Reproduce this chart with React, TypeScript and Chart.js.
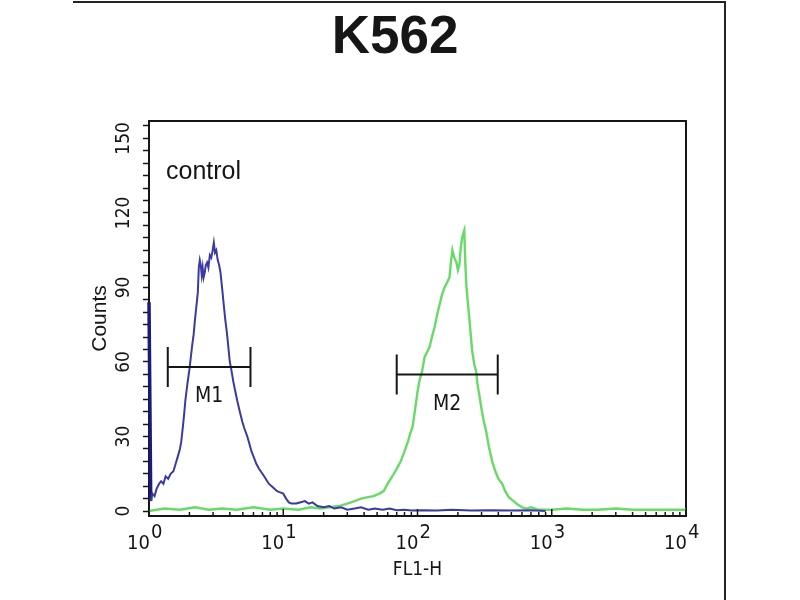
import React, { useEffect, useRef } from "react";
import { Chart, registerables } from "chart.js";
import type { Plugin } from "chart.js";

Chart.register(...registerables);

const chartTitle = "K562";
const sampleNote = "control";
const xTitle = "FL1-H";
const yTitle = "Counts";

const xDecades = [1, 10, 100, 1000, 10000];
const yTickLabels = [0, 30, 60, 90, 120, 150];

// [FL1-H, counts]
const controlHistogram: [number, number][] = [
  [1.0, 84], [1.03, 4], [1.06, 7], [1.1, 6], [1.14, 9], [1.19, 11], [1.23, 12], [1.28, 11],
  [1.33, 14], [1.39, 13], [1.45, 15], [1.52, 16], [1.58, 19], [1.64, 22], [1.7, 25], [1.74, 28],
  [1.78, 33], [1.82, 38], [1.87, 45], [1.93, 51], [2.0, 57], [2.05, 62], [2.1, 67], [2.15, 71],
  [2.2, 77], [2.26, 83], [2.31, 88], [2.35, 98], [2.39, 101], [2.43, 99], [2.47, 95], [2.51, 98],
  [2.55, 94], [2.6, 96], [2.65, 99], [2.71, 100], [2.77, 98], [2.84, 103], [2.91, 102], [2.98, 105],
  [3.04, 108], [3.1, 104], [3.17, 105], [3.25, 101], [3.33, 99], [3.41, 96], [3.5, 90], [3.59, 84],
  [3.7, 77], [3.8, 72], [3.9, 66], [4.0, 60], [4.1, 57], [4.25, 52], [4.4, 48], [4.56, 44],
  [4.75, 40], [4.95, 36], [5.15, 33], [5.4, 30], [5.6, 27], [5.8, 24], [6.0, 22], [6.3, 19],
  [6.6, 17], [7.0, 15], [7.4, 13], [7.8, 11], [8.2, 10], [8.6, 9], [9.0, 8], [9.5, 7.5],
  [10, 7], [10.5, 5], [11, 3.5], [11.5, 3], [12.5, 3], [13.5, 3.5], [14.5, 4], [15.5, 3],
  [16.5, 3.5], [18, 2], [20, 1.5], [22, 2], [24, 1], [27, 1.5], [30, 0.5], [34, 1],
  [38, 1.5], [43, 0.5], [48, 1], [55, 0.5], [62, 1], [70, 0.3], [80, 0.5], [90, 0.2],
  [110, 0.3], [140, 0.2], [180, 0.5], [250, 0.2], [350, 0.3], [500, 0.2], [700, 0.3], [900, 0],
];

const stainedHistogram: [number, number][] = [
  [1.0, 0], [1.3, 1], [1.7, 0.5], [2.2, 1.5], [2.8, 0.5], [3.5, 1], [4.5, 0.5], [6, 1.5],
  [8, 0.5], [10, 1], [13, 0.5], [16, 1.5], [19, 1], [22, 1.5], [26, 2], [30, 3],
  [34, 4], [38, 5], [42, 5.5], [47, 6], [52, 7], [56, 8], [60, 11], [65, 14],
  [70, 17], [75, 20], [80, 24], [85, 28], [88, 31], [92, 34], [96, 41], [100, 48],
  [104, 53], [108, 56], [113, 62], [118, 64], [123, 66], [128, 70], [134, 74], [140, 79],
  [146, 83], [152, 87], [159, 90], [166, 92], [173, 94], [178, 101], [182, 105], [188, 102],
  [195, 100], [200, 97], [205, 99], [210, 106], [215, 110], [220, 112], [223, 113], [227, 100],
  [231, 91], [237, 84], [243, 78], [250, 70], [256, 64], [265, 59], [274, 56], [280, 51],
  [288, 47], [300, 41], [312, 36], [325, 32], [340, 26], [360, 20], [380, 16], [400, 13],
  [427, 11], [450, 8], [480, 5.5], [520, 4], [560, 2.5], [603, 1.5], [650, 1], [700, 1.5],
  [800, 0.5], [1000, 0.5], [1300, 1], [1700, 0.5], [2200, 0.5], [3000, 1], [4000, 0.5], [5500, 0.5],
  [7500, 0.5], [10000, 0.5],
];

const markerNames = ["M1", "M2"];
const markerStart = [1.38, 70];
const markerEnd = [5.7, 396];
const markerLevel = [58, 55];

const ink = "#161616";
const narrow = '"Liberation Sans Narrow", "DejaVu Sans Condensed", "Liberation Sans", sans-serif';
const regular = '"Liberation Sans", Arial, sans-serif';

// ticks 1..9 per decade up to 10^4
const xTickValues: number[] = [];
xDecades.forEach((d, i) => {
  if (i === xDecades.length - 1) {
    xTickValues.push(d);
    return;
  }
  for (let k = 1; k < 10; k++) xTickValues.push(d * k);
});

const flowDecor: Plugin<"line"> = {
  id: "flowDecor",
  beforeDatasetsDraw(chart) {
    const { ctx, chartArea: a } = chart;
    ctx.save();
    ctx.strokeStyle = ink;
    ctx.lineWidth = 2;
    ctx.strokeRect(a.left, a.top, a.right - a.left, a.bottom - a.top);
    ctx.restore();
  },
  afterDatasetsDraw(chart) {
    const { ctx, chartArea: a } = chart;
    const xs = chart.scales.x;
    const ys = chart.scales.y;
    ctx.save();
    ctx.fillStyle = ink;
    ctx.strokeStyle = ink;

    // title + note
    ctx.font = `bold 53px ${regular}`;
    ctx.textAlign = "center";
    ctx.textBaseline = "alphabetic";
    ctx.fillText(chartTitle, 395, 53);
    ctx.font = `25px ${regular}`;
    ctx.textAlign = "left";
    ctx.fillText(sampleNote, 166, 179);

    // inner x ticks
    ctx.lineWidth = 1.5;
    xs.ticks.forEach((t) => {
      const px = xs.getPixelForValue(t.value);
      const len = xDecades.includes(t.value) ? 7 : 4;
      ctx.beginPath();
      ctx.moveTo(px, a.bottom);
      ctx.lineTo(px, a.bottom - len);
      ctx.stroke();
    });

    // 10^n labels
    ctx.font = `20px ${narrow}`;
    xDecades.forEach((d) => {
      const px = xs.getPixelForValue(d);
      ctx.textAlign = "right";
      ctx.fillText("10", px + 1, 549);
      ctx.textAlign = "left";
      ctx.fillText(String(Math.round(Math.log10(d))), px + 2, 538);
    });

    // rotated y labels
    ctx.font = `19px ${narrow}`;
    yTickLabels.forEach((v) => {
      const py = ys.getPixelForValue(v);
      ctx.save();
      ctx.translate(124, py);
      ctx.rotate(-Math.PI / 2);
      ctx.textAlign = "center";
      ctx.textBaseline = "middle";
      ctx.fillText(String(v), 0, 0);
      ctx.restore();
    });

    // gates
    ctx.lineWidth = 2;
    ctx.font = `21px ${narrow}`;
    ctx.textAlign = "center";
    ctx.textBaseline = "middle";
    markerNames.forEach((name, i) => {
      const x0 = xs.getPixelForValue(markerStart[i]);
      const x1 = xs.getPixelForValue(markerEnd[i]);
      const py = ys.getPixelForValue(markerLevel[i]);
      ctx.beginPath();
      ctx.moveTo(x0, py);
      ctx.lineTo(x1, py);
      ctx.moveTo(x0, py - 20);
      ctx.lineTo(x0, py + 20);
      ctx.moveTo(x1, py - 20);
      ctx.lineTo(x1, py + 20);
      ctx.stroke();
      ctx.fillText(name, (x0 + x1) / 2, py + 30);
    });
    ctx.restore();
  },
};

const App: React.FC = () => {
  const canvasRef = useRef<HTMLCanvasElement>(null);

  useEffect(() => {
    if (!canvasRef.current) return;
    const chart = new Chart(canvasRef.current, {
      type: "line",
      data: {
        datasets: [
          {
            label: "control",
            data: controlHistogram.map(([x, y]) => ({ x, y })),
            borderColor: "#3a3aa2",
            borderWidth: 2,
            pointRadius: 0,
            tension: 0,
            clip: false,
            segment: {
              borderWidth: (c) => (c.p0DataIndex === 0 ? 3.5 : 2),
              borderColor: (c) => (c.p0DataIndex === 0 ? "#1a1a78" : undefined),
            },
          },
          {
            label: "K562",
            data: stainedHistogram.map(([x, y]) => ({ x, y })),
            borderColor: "#68da68",
            borderWidth: 2.4,
            pointRadius: 0,
            tension: 0,
          },
        ],
      },
      options: {
        animation: false,
        responsive: false,
        layout: { padding: { top: 121, right: 114, left: 0, bottom: 0 } },
        plugins: { legend: { display: false }, tooltip: { enabled: false } },
        scales: {
          x: {
            type: "logarithmic",
            min: 1,
            max: 10000,
            afterBuildTicks: (s) => {
              s.ticks = xTickValues.map((value) => ({ value }));
            },
            afterFit: (s) => {
              s.height = 84;
            },
            ticks: { display: false },
            grid: { display: false },
            border: { display: false },
            title: {
              display: true,
              text: xTitle,
              color: ink,
              font: { size: 19, family: narrow },
              padding: { top: 0, bottom: 19 },
            },
          },
          y: {
            min: -2,
            max: 157,
            ticks: { display: false, stepSize: 5, includeBounds: false },
            afterFit: (s) => {
              s.width = 149;
            },
            grid: {
              drawOnChartArea: false,
              drawTicks: true,
              tickLength: 6,
              tickWidth: 1.5,
              color: ink,
            },
            border: { display: false },
            title: {
              display: true,
              text: yTitle,
              color: ink,
              font: { size: 21, family: regular },
              padding: { top: 88, bottom: 0 },
            },
          },
        },
      },
      plugins: [flowDecor],
    });
    return () => chart.destroy();
  }, []);

  return (
    <div style={{ position: "absolute", left: 0, top: 0, width: 800, height: 600, background: "#fff" }}>
      <canvas ref={canvasRef} width={800} height={600} style={{ display: "block" }} />
      <div
        style={{
          position: "absolute",
          left: 73,
          top: 1,
          width: 651,
          height: 599,
          borderTop: "2px solid #222",
          borderRight: "2px solid #222",
          pointerEvents: "none",
        }}
      />
    </div>
  );
};

export default App;
